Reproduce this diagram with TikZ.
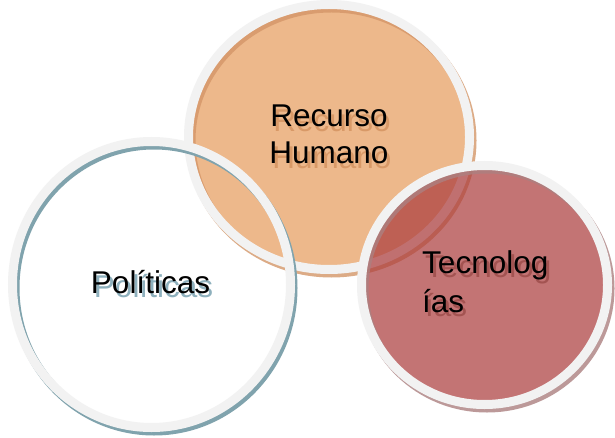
\documentclass[tikz,border=0pt]{standalone}
\usepackage{fontspec}
\setmainfont{Liberation Sans}
\definecolor{ringwhite}{RGB}{242,242,242}
\definecolor{orfill}{RGB}{237,184,139}
\definecolor{orshadow}{RGB}{212,150,104}
\definecolor{poshadow}{RGB}{128,163,173}
\definecolor{tefill}{RGB}{173,63,63}
\definecolor{teshadow}{RGB}{172,128,128}
\definecolor{ortext}{RGB}{214,150,100}
\definecolor{potext}{RGB}{130,168,182}
\definecolor{tetext}{RGB}{160,80,78}
\newcommand\shtext[5]{%
  \node[txt,text=#5,opacity=0.9,anchor=#3] (#1s) at ($(#2)+(3,4.5)$) {#4};
  \node[txt,anchor=#3] (#1) at (#2) {#4};}
\usetikzlibrary{calc}
\begin{document}
\begin{tikzpicture}[x=1pt,y=-1pt,
  txt/.style={font=\fontsize{31.5}{36}\selectfont, inner sep=0pt},
  ringline/.style={draw=ringwhite, line width=9pt},
  shadowline/.style={line width=9pt}]
\useasboundingbox (0,0) rectangle (615,438);
\fill[white] (0,0) rectangle (615,438);
% centres
\coordinate (cR) at (329,137);
\coordinate (cP) at (151.5,284.5);
\coordinate (cT) at (484.5,285);
% Recurso Humano circle
\fill[orfill] (cR) ellipse [x radius=140.5pt, y radius=132.5pt];
\draw[shadowline, draw=orshadow, draw opacity=0.8] ($(cR)+(2.5,3.5)$) ellipse [x radius=140.5pt, y radius=132.5pt];
\draw[ringline] (cR) ellipse [x radius=140.5pt, y radius=132.5pt];
% Politicas circle
\draw[shadowline, draw=poshadow] ($(cP)+(2.5,3.5)$) ellipse [x radius=139pt, y radius=143pt];
\draw[ringline] (cP) ellipse [x radius=139pt, y radius=143pt];
% Tecnologias circle
\fill[tefill, fill opacity=0.72] (cT) ellipse [x radius=123pt, y radius=119.5pt];
\draw[shadowline, draw=teshadow, draw opacity=0.8] ($(cT)+(2.5,3.5)$) ellipse [x radius=123pt, y radius=119.5pt];
\draw[ringline] (cT) ellipse [x radius=123pt, y radius=119.5pt];
% texts
\coordinate (tR1) at (329,127);
\coordinate (tR2) at (329,164);
\coordinate (tP) at (150.5,293);
\coordinate (tT1) at (422,273);
\coordinate (tT2) at (422,312);
\shtext{recurso}{tR1}{base}{Recurso}{ortext}
\shtext{humano}{tR2}{base}{Humano}{ortext}
\shtext{politicas}{tP}{base}{Políticas}{potext}
\shtext{tecno}{tT1}{base west}{Tecnolog}{tetext}
\shtext{ias}{tT2}{base west}{ías}{tetext}
\end{tikzpicture}
\end{document}
